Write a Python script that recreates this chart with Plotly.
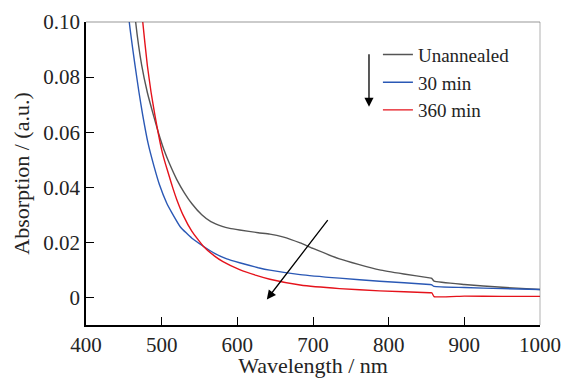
import plotly.graph_objects as go

# Unannealed
wl_un = [460, 465.6, 473.5, 481, 489, 496, 503, 510, 520, 530, 540, 553, 565, 580, 590, 603, 627.6, 643, 660, 683, 700, 735, 760, 788, 820, 854, 857, 860, 900, 950, 1000]
ab_un = [0.118, 0.100, 0.0844, 0.0745, 0.0663, 0.0595, 0.0536, 0.0488, 0.0428, 0.0380, 0.0340, 0.0300, 0.0275, 0.0258, 0.0251, 0.0245, 0.0235, 0.0230, 0.0220, 0.0198, 0.0178, 0.0140, 0.0120, 0.0100, 0.0085, 0.0071, 0.0069, 0.0059, 0.0047, 0.0037, 0.0029]

# 30 min
wl_30 = [452, 457.2, 464.7, 470, 474.9, 482, 490, 497, 506.6, 513, 525, 540, 555, 570, 586, 603, 627.6, 643, 683, 735, 788, 854, 857, 860, 900, 950, 1000]
ab_30 = [0.118, 0.100, 0.0844, 0.0745, 0.0663, 0.056, 0.0475, 0.041, 0.0343, 0.0310, 0.0255, 0.0215, 0.0186, 0.0160, 0.0140, 0.0126, 0.0108, 0.0099, 0.0083, 0.0070, 0.0059, 0.0047, 0.0046, 0.0040, 0.0036, 0.0032, 0.0029]

# 360 min
wl_360 = [470, 475, 481, 486, 491, 500, 505, 510, 515, 520, 528.5, 540, 555, 570, 581, 603, 625, 643, 683, 735, 788, 854, 857, 860, 900, 950, 1000]
ab_360 = [0.118, 0.100, 0.0844, 0.0745, 0.0663, 0.0536, 0.0485, 0.0440, 0.0395, 0.0355, 0.0298, 0.0240, 0.0186, 0.0150, 0.0130, 0.0101, 0.0080, 0.0066, 0.0045, 0.0032, 0.0024, 0.0017, 0.0017, 0.0003, 0.0005, 0.0004, 0.0004]

names = ["Unannealed", "30 min", "360 min"]
colors = ["#555555", "#2a58b5", "#e5121b"]

x_ticks = [400, 500, 600, 700, 800, 900, 1000]
y_ticks = [0, 0.02, 0.04, 0.06, 0.08, 0.10]
y_tick_text = ["0", "0.02", "0.04", "0.06", "0.08", "0.10"]

FONT = "Times New Roman"

fig = go.Figure()
for wl, ab, nm, c in zip([wl_un, wl_30, wl_360], [ab_un, ab_30, ab_360], names, colors):
    fig.add_trace(go.Scatter(x=wl, y=ab, mode="lines", name=nm,
                             line=dict(color=c, width=1.4, shape="spline", smoothing=0.4)))

fig.update_layout(
    template="simple_white",
    width=567, height=378,
    margin=dict(l=86, r=27, t=22, b=53),
    showlegend=True,
    legend=dict(x=0.643, y=0.955, xanchor="left", yanchor="top",
                font=dict(family=FONT, size=19),
                itemwidth=30, tracegroupgap=0),
)
fig.update_xaxes(range=[400, 1000], tickvals=x_ticks, ticks="inside", ticklen=8,
                 tickcolor="black", showline=True, linecolor="black", linewidth=1.5,
                 showgrid=False, zeroline=False, automargin=False,
                 title=dict(text="Wavelength / nm", font=dict(family=FONT, size=22), standoff=10),
                 tickfont=dict(family=FONT, size=21))
fig.update_yaxes(range=[-0.01, 0.10], tickvals=y_ticks, ticktext=y_tick_text,
                 ticks="inside", ticklen=8, tickcolor="black", showline=True,
                 linecolor="black", linewidth=1.5, showgrid=False, zeroline=False,
                 automargin=False,
                 title=dict(text="Absorption / (a.u.)", font=dict(family=FONT, size=22), standoff=8),
                 tickfont=dict(family=FONT, size=21))

# top and right frame lines (grey)
fig.add_shape(type="line", xref="paper", yref="paper", x0=0, x1=1, y0=1, y1=1,
              line=dict(color="#555555", width=2))
fig.add_shape(type="line", xref="paper", yref="paper", x0=1, x1=1, y0=0, y1=1,
              line=dict(color="#555555", width=1.5))

# diagonal arrow
fig.add_annotation(x=639, y=-0.0007, ax=721, ay=0.0286, xref="x", yref="y",
                   axref="x", ayref="y", showarrow=True, arrowhead=2, arrowsize=1.4,
                   arrowwidth=1.3, arrowcolor="black", text="")
# legend arrow
fig.add_annotation(x=774, y=0.0692, ax=774, ay=0.0888, xref="x", yref="y",
                   axref="x", ayref="y", showarrow=True, arrowhead=2, arrowsize=1.4,
                   arrowwidth=1.3, arrowcolor="black", text="")

fig.write_html("out.html")
